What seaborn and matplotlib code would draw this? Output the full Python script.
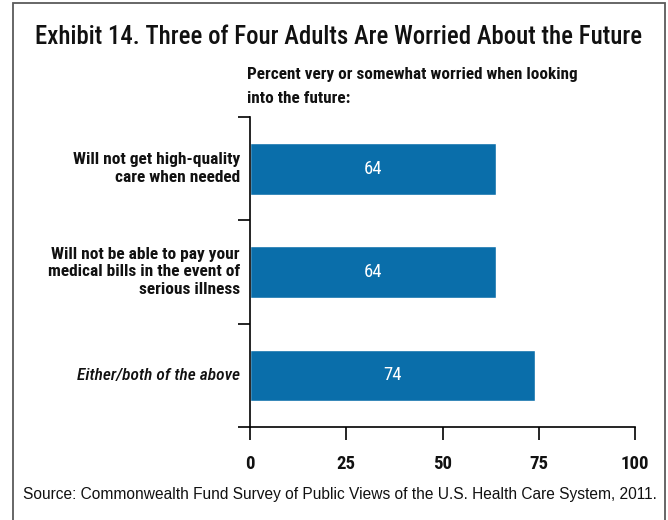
import matplotlib
matplotlib.use("Agg")
import matplotlib.pyplot as plt
import matplotlib.patches as mpatches
import seaborn as sns
import pandas as pd

# Survey results
categories = [
    "Will not get high-quality\ncare when needed",
    "Will not be able to pay your\nmedical bills in the event of\nserious illness",
    "Either/both of the above",
]
values = [64, 64, 74]
x_ticks = [0, 25, 50, 75, 100]

title = "Exhibit 14. Three of Four Adults Are Worried About the Future"
subtitle = "Percent very or somewhat worried when looking\ninto the future:"
source = "Source: Commonwealth Fund Survey of Public Views of the U.S. Health Care System, 2011."

BAR_COLOR = "#0a6eaa"
TEXT_COLOR = "#111111"
NARROW = ["Roboto Condensed", "DejaVu Sans"]

sns.set_theme(style="white")
plt.rcParams["font.family"] = ["Liberation Sans", "DejaVu Sans"]

df = pd.DataFrame({"category": categories, "value": values})

W, H = 668, 520
fig = plt.figure(figsize=(W / 100, H / 100), dpi=100)
ax = fig.add_axes([250 / W, (H - 427) / H, 385 / W, 310 / H])

sns.barplot(data=df, y="category", x="value", orient="h", color=BAR_COLOR,
            saturation=1, width=0.5, ax=ax)

ax.set_xlim(0, 100)
ax.set_ylim(len(categories) - 0.5, -0.5)
ax.set_xlabel("")
ax.set_ylabel("")

# x axis
ax.set_xticks(x_ticks)
ax.set_xticklabels([str(t) for t in x_ticks], family=NARROW, fontsize=13.5,
                   fontweight="bold")
ax.tick_params(axis="x", direction="out", length=9, width=1.2, pad=11,
               colors="black", bottom=True)
for lab in ax.get_xticklabels():
    lab.set_color(TEXT_COLOR)

# y axis: category labels at centres, ticks at boundaries
ax.set_yticks(range(len(categories)))
ax.set_yticklabels([])
ax.set_yticks([i - 0.5 for i in range(len(categories) + 1)], minor=True)
ax.tick_params(axis="y", which="major", length=0, left=False)
ax.tick_params(axis="y", which="minor", direction="out", length=9, width=1.2,
               left=True, colors="black")
for i, lab in enumerate(categories):
    italic = i == len(categories) - 1
    ax.text(-0.026, i, lab, transform=ax.get_yaxis_transform(), ha="right",
            va="center", family=NARROW, fontsize=12.5,
            fontweight="medium" if italic else "bold",
            style="italic" if italic else "normal", linespacing=1.2,
            multialignment="right", color=TEXT_COLOR)

for side in ["top", "right"]:
    ax.spines[side].set_visible(False)
for side in ["left", "bottom"]:
    ax.spines[side].set_color("black")
    ax.spines[side].set_linewidth(1.2)

# value labels inside bars
for i, v in enumerate(values):
    ax.text(v / 2, i, str(v), ha="center", va="center", color="white",
            family=NARROW, fontsize=13.5)

# titles and source
fig.text(338.5 / W, 1 - 37 / H, title, ha="center", va="center",
         family=NARROW, fontsize=17.8, fontweight="medium", color=TEXT_COLOR)
fig.text(247 / W, 1 - 67 / H, subtitle, ha="left", va="top",
         family=NARROW, fontsize=12.3, fontweight="bold", linespacing=1.75,
         color=TEXT_COLOR)
fig.text(23 / W, 1 - 494 / H, source, ha="left", va="center",
         fontsize=11.2, color=TEXT_COLOR)

# outer frame
frame = mpatches.Rectangle((13 / W, -0.05), 652 / W, 1.05 - 3 / H,
                           transform=fig.transFigure, fill=False,
                           edgecolor="#5a5a5a", linewidth=1.3, clip_on=False)
fig.add_artist(frame)

fig.savefig("out.png", dpi=100)
